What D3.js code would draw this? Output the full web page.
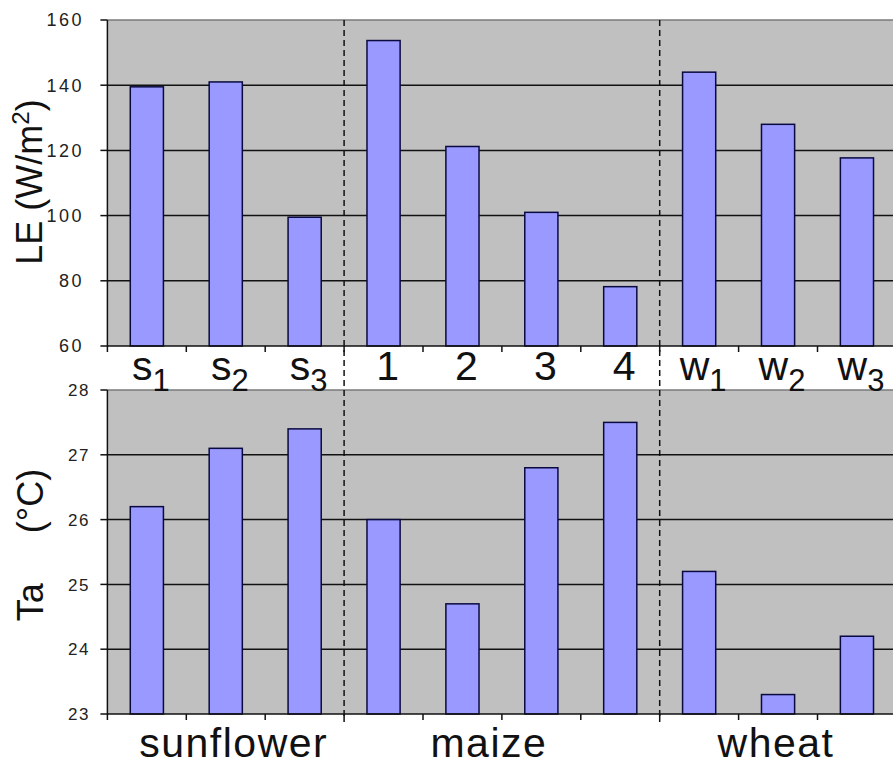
<!DOCTYPE html>
<html>
<head>
<meta charset="utf-8">
<script src="https://cdn.jsdelivr.net/npm/d3@7"></script>
<style>
  html, body { margin: 0; padding: 0; background: #fff; }
  svg { display: block; font-family: "Liberation Sans", Arial, sans-serif; }
  text { white-space: pre; }
</style>
</head>
<body>
<svg id="mainsvg" width="893" height="766"></svg>
<script>
// data
const categories = ['s1', 's2', 's3', '1', '2', '3', '4', 'w1', 'w2', 'w3'];
const catMain = ['s', 's', 's', '1', '2', '3', '4', 'w', 'w', 'w'];
const catSub = ['1', '2', '3', '', '', '', '', '1', '2', '3'];
const leValues = [139.5, 141, 99.5, 153.7, 121.2, 101, 78.2, 144, 128, 117.7];
const taValues = [26.2, 27.1, 27.4, 26.0, 24.7, 26.8, 27.5, 25.2, 23.3, 24.2];
const leTicks = [60, 80, 100, 120, 140, 160];
const taTicks = [23, 24, 25, 26, 27, 28];
const groupNames = ['sunflower', 'maize', 'wheat'];
const groupAnchor = ['s2', '3', 'w2'];   // band each crop name sits under
const groupBreaks = ['1', 'w1'];          // dashed separators sit left of these

const svg = d3.select('#mainsvg');

const x = d3.scaleBand()
  .domain(categories)
  .range([107.4, 896.4])
  .padding(0);
const bw = x.bandwidth();
const barW = bw * 0.42;

const yTop = d3.scaleLinear().domain([60, 160]).range([346, 20]);
const yBot = d3.scaleLinear().domain([23, 28]).range([714, 390]);

function panel(y, values, ticks, labelX, labelSize, spacing) {
  const g = svg.append('g');
  const [y0, y1] = y.range();
  const left = x.range()[0];
  const right = x.range()[1];

  g.append('rect')
    .attr('x', left).attr('y', y1)
    .attr('width', right - left).attr('height', y0 - y1)
    .attr('fill', '#c0c0c0');

  // gridlines
  g.selectAll('line.grid')
    .data(ticks.slice(1))
    .join('line')
    .attr('class', 'grid')
    .attr('x1', left).attr('x2', right)
    .attr('y1', d => y(d)).attr('y2', d => y(d))
    .attr('stroke', (d, i) => i === ticks.length - 2 ? '#7a7a7a' : '#111')
    .attr('stroke-width', 1.5);

  // bars
  g.selectAll('rect.bar')
    .data(values)
    .join('rect')
    .attr('class', 'bar')
    .attr('x', (d, i) => x(categories[i]) + (bw - barW) / 2)
    .attr('y', d => y(d))
    .attr('width', barW)
    .attr('height', d => y0 - y(d))
    .attr('fill', '#9999ff')
    .attr('stroke', '#0a0a40')
    .attr('stroke-width', 1.5);

  // axes lines
  g.append('line')
    .attr('x1', left).attr('x2', right)
    .attr('y1', y0).attr('y2', y0)
    .attr('stroke', '#111').attr('stroke-width', 1.5);
  g.append('line')
    .attr('x1', left).attr('x2', left)
    .attr('y1', y1).attr('y2', y0)
    .attr('stroke', '#111').attr('stroke-width', 1.5);

  // x ticks at category boundaries
  g.selectAll('line.xtick')
    .data(categories)
    .join('line')
    .attr('class', 'xtick')
    .attr('x1', d => x(d)).attr('x2', d => x(d))
    .attr('y1', y0).attr('y2', y0 + 6)
    .attr('stroke', '#111').attr('stroke-width', 1.5);

  // y ticks + labels
  g.selectAll('line.ytick')
    .data(ticks)
    .join('line')
    .attr('class', 'ytick')
    .attr('x1', left - 7).attr('x2', left)
    .attr('y1', d => y(d)).attr('y2', d => y(d))
    .attr('stroke', '#111').attr('stroke-width', 1.5);

  g.selectAll('text.ylab')
    .data(ticks)
    .join('text')
    .attr('class', 'ylab')
    .attr('x', labelX)
    .attr('y', d => y(d))
    .attr('dy', '0.36em')
    .attr('text-anchor', 'end')
    .attr('font-size', labelSize)
    .attr('letter-spacing', spacing)
    .attr('fill', '#222')
    .text(d => d);
}

panel(yTop, leValues, leTicks, 84, 18, 2.5);
panel(yBot, taValues, taTicks, 90, 17, 1.5);

// dashed separators between crops
svg.selectAll('line.sep')
  .data(groupBreaks)
  .join('line')
  .attr('class', 'sep')
  .attr('x1', d => x(d)).attr('x2', d => x(d))
  .attr('y1', yTop.range()[1]).attr('y2', yBot.range()[0] + 8)
  .attr('stroke', '#111')
  .attr('stroke-width', 1.5)
  .attr('stroke-dasharray', '6,4');

// category labels between the panels
const cl = svg.selectAll('text.cat')
  .data(categories)
  .join('text')
  .attr('class', 'cat')
  .attr('x', d => x(d) + bw / 2 + 4)
  .attr('y', 380)
  .attr('text-anchor', 'middle')
  .attr('font-size', 41)
  .attr('fill', '#111');
cl.append('tspan').text((d, i) => catMain[i]);
cl.append('tspan')
  .attr('dy', 11)
  .attr('font-size', 31)
  .text((d, i) => catSub[i]);

// crop names under the lower panel
const shift = [8, -13, -2];
svg.selectAll('text.group')
  .data(groupNames)
  .join('text')
  .attr('class', 'group')
  .attr('x', (d, i) => x(groupAnchor[i]) + (i === 1 ? 0 : bw / 2) + shift[i])
  .attr('y', 757)
  .attr('text-anchor', 'middle')
  .attr('font-size', 41)
  .attr('letter-spacing', 1.5)
  .attr('fill', '#111')
  .text(d => d);

// axis titles
const t1 = svg.append('text')
  .attr('transform', 'translate(42,182) rotate(-90)')
  .attr('text-anchor', 'middle')
  .attr('font-size', 36)
  .attr('fill', '#111');
t1.append('tspan').text('LE (W/m');
t1.append('tspan').attr('dy', -13).attr('font-size', 24).text('2');
t1.append('tspan').attr('dy', 13).text(')');

svg.append('text')
  .attr('transform', 'translate(43,545) rotate(-90)')
  .attr('text-anchor', 'middle')
  .attr('font-size', 36)
  .attr('fill', '#111')
  .text('Ta     (°C)');
</script>
</body>
</html>
